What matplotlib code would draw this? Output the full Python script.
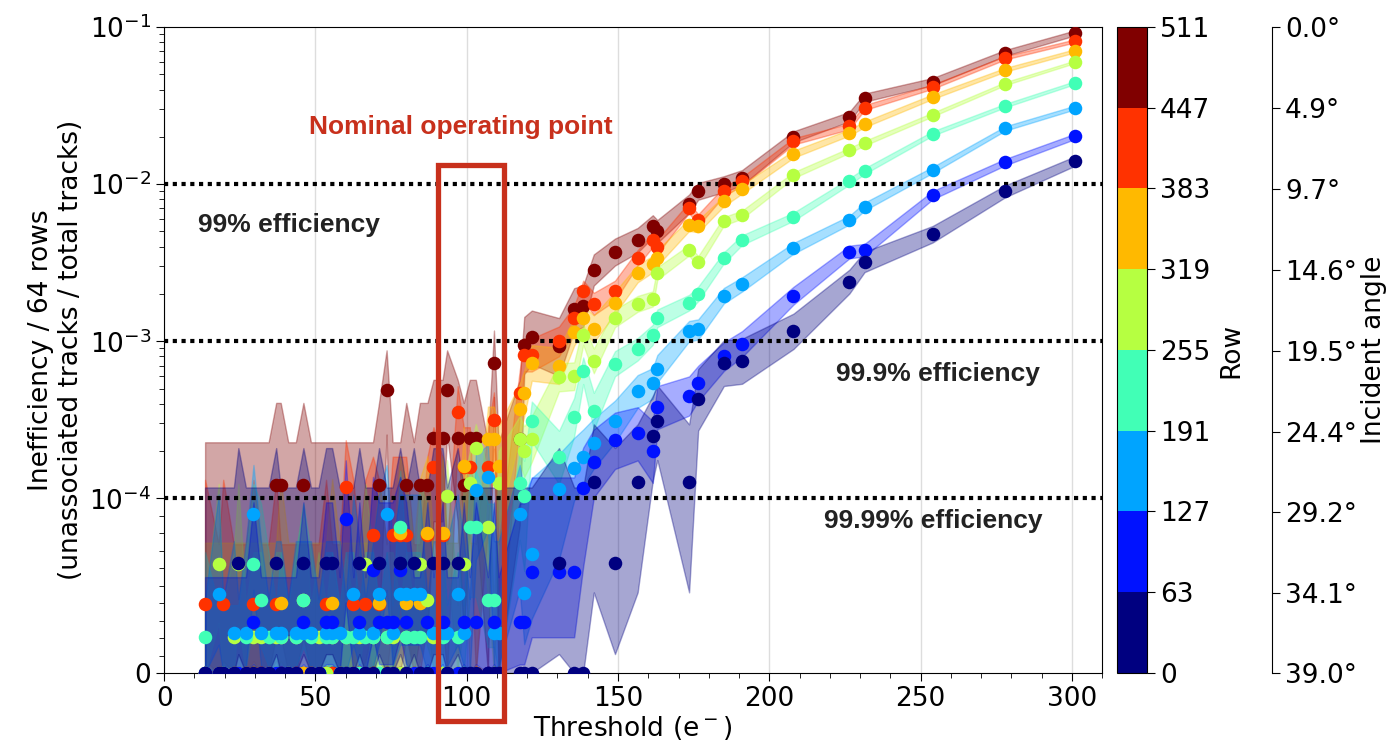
import numpy as np
import matplotlib
matplotlib.use('Agg')
import matplotlib.pyplot as plt
import matplotlib.transforms as mtransforms
from matplotlib.colors import BoundaryNorm
from matplotlib.cm import ScalarMappable
from matplotlib.patches import Rectangle
from matplotlib.ticker import FixedLocator, NullFormatter

# Threshold scan points (e-), shared by all row groups
thr_low = [13.5, 18, 19.5, 23, 24.5, 27, 29.5, 32, 34.5, 37, 38.5, 41, 43.5, 46,
           48.5, 51, 53.5, 55.5, 58, 60, 62.5, 64.5, 66.5, 69, 71, 73.5, 75.5, 78,
           80, 82.5, 84.5, 87, 89, 92, 93.5, 97, 99, 101, 103, 107, 109, 110.5]
thr_high = [117.5, 119, 121.5, 130.5, 135.5, 138.5, 142, 149, 156.5, 161.5, 163,
            173.5, 176.5, 185, 191, 208, 226.5, 231.5, 254, 278, 301]

# row groups (colour bins) and number of tracks in each group
row_edges = [0, 63, 127, 191, 255, 319, 383, 447, 511]
n_tracks = [15900, 34000, 44000, 48000, 48000, 25000, 25300, 8200]

# unassociated track counts at low thresholds
low_0 = [0,0,0,0,1,0,0,0,0,1,0,0,0,1,0,0,1,1,0,0,0,1,0,0,1,0,0,1,0,1,0,0,1,1,0,1,0,0,0,0,0,0]
low_63 = [0,0,0,0,0,0,1,0,0,0,0,0,0,1,0,0,1,1,0,3,0,1,0,2,1,1,1,2,1,0,0,1,0,1,0,0,1,0,1,0,1,0]
low_127 = [0,2,0,1,0,1,4,1,0,1,1,0,1,1,1,0,1,1,1,0,2,1,0,1,2,4,1,2,2,2,2,0,1,1,1,2,1,0,5,6,1,1]
low_191 = [1,0,0,0,0,1,3,2,1,0,1,0,1,2,1,0,1,1,0,1,1,0,1,1,0,1,0,4,1,1,1,0,0,1,0,1,0,4,4,2,2,0]
low_255 = [0,3,0,1,3,0,1,1,0,1,1,0,1,2,0,1,0,1,0,1,0,1,3,1,0,1,1,0,1,0,3,2,1,0,5,0,3,6,10,4,0,6]
low_319 = [0,0,0,0,0,0,0,0,0,0,1,0,0,0,0,0,0,1,0,0,0,0,0,0,1,0,0,2,1,0,1,2,0,2,0,0,4,0,0,6,6,4]
low_383 = [1,0,1,0,0,0,1,0,0,1,0,0,0,0,0,0,1,0,0,3,1,0,1,2,1,0,2,2,2,0,0,2,4,2,0,9,4,4,0,4,8,0]
low_447 = [0,0,0,0,0,0,0,0,0,1,1,0,0,1,0,0,0,0,0,0,0,0,0,0,1,4,0,0,1,0,1,1,2,2,4,2,1,2,2,0,6,0]

# inefficiency at high thresholds
high_0 = [0, 0, 0, 6.3e-5, 0, 0, 1.28e-4, 6.3e-5, 1.28e-4, 2.5e-4, 3.1e-4, 1.28e-4, 4.3e-4,
          7.3e-4, 7.5e-4, 1.16e-3, 2.4e-3, 3.2e-3, 4.8e-3, 9.0e-3, 1.4e-2]
high_63 = [2.9e-5, 2.9e-5, 5.8e-5, 5.8e-5, 5.8e-5, 1.17e-4, 1.7e-4, 2.35e-4, 2.6e-4, 2.0e-4,
           3.8e-4, 4.5e-4, 5.4e-4, 8.0e-4, 9.6e-4, 1.95e-3, 3.7e-3, 3.8e-3, 8.5e-3, 1.38e-2, 2.01e-2]
high_127 = [9.1e-5, 4.6e-5, 6.8e-5, 1.14e-4, 1.57e-4, 1.84e-4, 2.25e-4, 3.1e-4, 4.8e-4, 5.4e-4,
            6.7e-4, 1.16e-3, 1.19e-3, 1.95e-3, 2.3e-3, 3.9e-3, 5.9e-3, 7.2e-3, 1.23e-2, 2.26e-2, 3.07e-2]
high_191 = [1.26e-4, 1.03e-4, 3.1e-4, 1.84e-4, 3.3e-4, 6.5e-4, 3.6e-4, 7.2e-4, 8.9e-4, 1.1e-3,
            1.4e-3, 1.76e-3, 2.0e-3, 3.4e-3, 4.4e-3, 6.2e-3, 1.04e-2, 1.21e-2, 2.1e-2, 3.16e-2, 4.42e-2]
high_255 = [2.4e-4, 2.0e-4, 2.4e-4, 5.9e-4, 6.0e-4, 1.1e-3, 7.5e-4, 1.4e-3, 1.73e-3, 1.86e-3,
            2.7e-3, 3.8e-3, 3.2e-3, 5.8e-3, 6.4e-3, 1.14e-2, 1.64e-2, 1.82e-2, 2.77e-2, 4.36e-2, 6.0e-2]
high_319 = [3.7e-4, 4.7e-4, 7.3e-4, 7.0e-4, 1.15e-3, 1.4e-3, 1.2e-3, 1.76e-3, 2.7e-3, 3.1e-3,
            3.4e-3, 5.5e-3, 5.4e-3, 7.8e-3, 9.3e-3, 1.55e-2, 2.13e-2, 2.4e-2, 3.6e-2, 5.34e-2, 7.05e-2]
high_383 = [4.7e-4, 8.2e-4, 8.2e-4, 1.0e-3, 1.4e-3, 2.1e-3, 1.73e-3, 2.1e-3, 3.4e-3, 4.4e-3,
            4.0e-3, 7.1e-3, 5.9e-3, 9.0e-3, 1.04e-2, 1.87e-2, 2.33e-2, 3.07e-2, 4.17e-2, 6.37e-2, 8.15e-2]
high_447 = [2.4e-4, 9.5e-4, 1.07e-3, 9.3e-4, 1.6e-3, 1.68e-3, 2.85e-3, 3.7e-3, 4.4e-3, 5.4e-3,
            5.0e-3, 7.5e-3, 9.0e-3, 1.0e-2, 1.1e-2, 2.0e-2, 2.69e-2, 3.55e-2, 4.49e-2, 6.84e-2, 9.16e-2]

low_sets = [low_0, low_63, low_127, low_191, low_255, low_319, low_383, low_447]
high_sets = [high_0, high_63, high_127, high_191, high_255, high_319, high_383, high_447]

angle_labels = ['39.0°', '34.1°', '29.2°', '24.4°', '19.5°', '14.6°', '9.7°', '4.9°', '0.0°']
eff_levels = [1e-2, 1e-3, 1e-4]
nominal_range = (90.4, 112.3)

red = '#c8301c'
fs = 19
cmap = plt.get_cmap('jet', 8)
norm = BoundaryNorm(row_edges, 8)

thr = np.array(thr_low + thr_high)


def poisson_band(k):
    # Gehrels 1 sigma interval on a count
    k = np.asarray(k, dtype=float)
    up = k + np.sqrt(k + 0.75) + 1.0
    kk = np.maximum(k, 1e-9)
    lo = np.where(k > 0, kk * (1 - 1 / (9 * kk) - 1 / (3 * np.sqrt(kk))) ** 3, 0.0)
    return lo, up


fig = plt.figure(figsize=(13.86, 7.46), dpi=100)
ax = fig.add_axes([0.1185, 0.0979, 0.6766, 0.8659])
ax.set_yscale('symlog', linthresh=1e-4, linscale=1)

series = []
for i in range(8):
    N = n_tracks[i]
    vals = np.concatenate([np.array(low_sets[i]) / N, np.array(high_sets[i])])
    lo, up = poisson_band(vals * N)
    series.append((vals, lo / N, up / N))

# bands first, then the points, dark rows on top
for i in range(7, -1, -1):
    vals, lo, up = series[i]
    ax.fill_between(thr, lo, up, color=cmap(i), alpha=0.35, lw=1, zorder=2)
for i in range(7, -1, -1):
    vals, lo, up = series[i]
    ax.scatter(thr, vals, s=95, color=cmap(i), lw=0, zorder=4)

for lvl in eff_levels:
    ax.axhline(lvl, color='k', ls=(0, (1, 1.1)), lw=3, zorder=3)

ax.set_xlim(0, 310)
ax.set_ylim(0, 0.1)
ax.set_yticks([0, 1e-4, 1e-3, 1e-2, 1e-1])
minor = [m * 1e-5 for m in range(1, 10)]
for d in [1e-4, 1e-3, 1e-2]:
    minor += [m * d for m in range(2, 10)]
ax.yaxis.set_minor_locator(FixedLocator(minor))
ax.yaxis.set_minor_formatter(NullFormatter())
ax.set_xticks(range(0, 301, 50))
ax.set_xticks(range(0, 311, 10), minor=True)
ax.grid(axis='x', which='major', color='#dddddd', lw=1, zorder=0)
ax.set_axisbelow(True)
ax.tick_params(labelsize=fs, length=6)
ax.tick_params(which='minor', length=3.5)

ax.set_xlabel('Threshold (e$^-$)', fontsize=fs, labelpad=1)
ax.set_ylabel('Inefficiency / 64 rows\n(unassociated tracks / total tracks)', fontsize=fs, labelpad=4)

# nominal operating point box
trans = mtransforms.blended_transform_factory(ax.transData, ax.transAxes)
ax.add_patch(Rectangle((nominal_range[0], -0.074), nominal_range[1] - nominal_range[0], 0.86,
                       transform=trans, fill=False, ec=red, lw=3.8, clip_on=False, zorder=6))
ax.text(98, 2.3e-2, 'Nominal operating point', color=red, fontsize=fs, fontweight='bold',
        family='Liberation Sans', ha='center', va='center')

txt_kw = dict(fontsize=fs, fontweight='bold', family='Liberation Sans', color='#222222',
              va='center', ha='left', zorder=7)
ax.text(11, 5.5e-3, '99% efficiency', **txt_kw)
ax.text(222, 6.2e-4, '99.9% efficiency', **txt_kw)
ax.text(218, 8.7e-5, '99.99% efficiency', **txt_kw)

# colour bar of row groups
cax = fig.add_axes([0.8059, 0.0979, 0.02165, 0.8659])
sm = ScalarMappable(norm=norm, cmap=cmap)
cb = fig.colorbar(sm, cax=cax, ticks=row_edges)
cb.ax.tick_params(labelsize=fs, length=6)
cb.set_label('Row', fontsize=fs, labelpad=6)

# incident angle axis
aax = fig.add_axes([0.9167, 0.0979, 0.001, 0.8659])
for s in ['left', 'top', 'bottom']:
    aax.spines[s].set_visible(False)
aax.set_xticks([])
aax.yaxis.tick_right()
aax.yaxis.set_label_position('right')
aax.set_ylim(0, 511)
aax.set_yticks(row_edges)
aax.set_yticklabels(angle_labels)
aax.tick_params(labelsize=fs, length=6)
aax.set_ylabel('Incident angle', fontsize=fs, labelpad=3)
aax.patch.set_visible(False)

fig.savefig('out.png', dpi=100)
